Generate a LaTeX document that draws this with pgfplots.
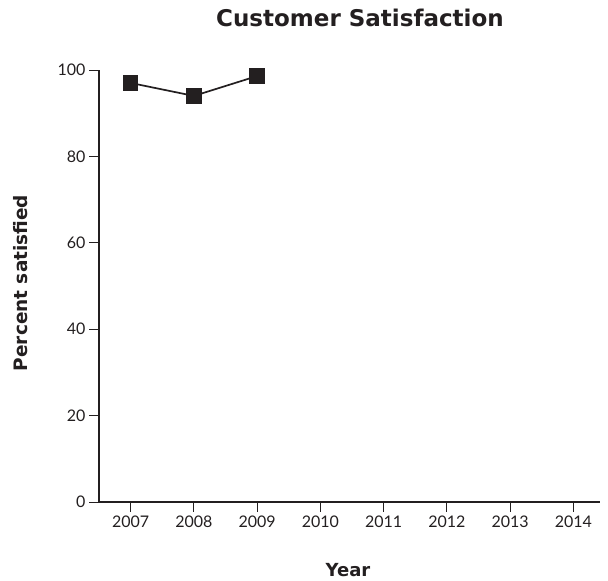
\documentclass[border=0pt]{standalone}
\usepackage{pgfplots}
\pgfplotsset{compat=1.18}
\usepackage{fontspec}
\setmainfont{Lato}
\newfontfamily\headfont{DejaVu Sans}
\definecolor{ink}{HTML}{231F20}
\begin{document}
\begin{tikzpicture}[x=1pt,y=1pt]
\path[use as bounding box] (0,0) rectangle (608,581);
\begin{axis}[
  at={(99pt,79pt)}, anchor=south west,
  scale only axis, width=501pt, height=432pt,
  xmin=2006.5, xmax=2014.42, ymin=0, ymax=100,
  axis lines*=left, axis line style={-, ink, line width=1.3pt},
  xtick={2007,...,2014}, ytick={0,20,...,100},
  tick align=outside, major tick length=10pt,
  tick style={ink, line width=0.8pt},
  xticklabel style={/pgf/number format/1000 sep={}, font=\fontsize{16}{18}\selectfont, text=ink},
  yticklabel style={font=\fontsize{16}{18}\selectfont, text=ink},
  /pgf/number format/assume math mode=true,
  clip=false,
]
\addplot[ink, line width=1.7pt, mark=square*, mark size=7pt, mark options={solid, fill=ink}]
  coordinates {(2007,97.0) (2008,94.0) (2009,98.6)};
\end{axis}
\node[text=ink, font=\headfont\bfseries\fontsize{23}{27}\selectfont] at (360,563) {Customer Satisfaction};
\node[text=ink, font=\headfont\bfseries\fontsize{18.5}{22}\selectfont, rotate=90] at (21,298) {Percent satisfied};
\node[text=ink, font=\headfont\bfseries\fontsize{18}{21}\selectfont] at (348,11) {Year};
\end{tikzpicture}
\end{document}
